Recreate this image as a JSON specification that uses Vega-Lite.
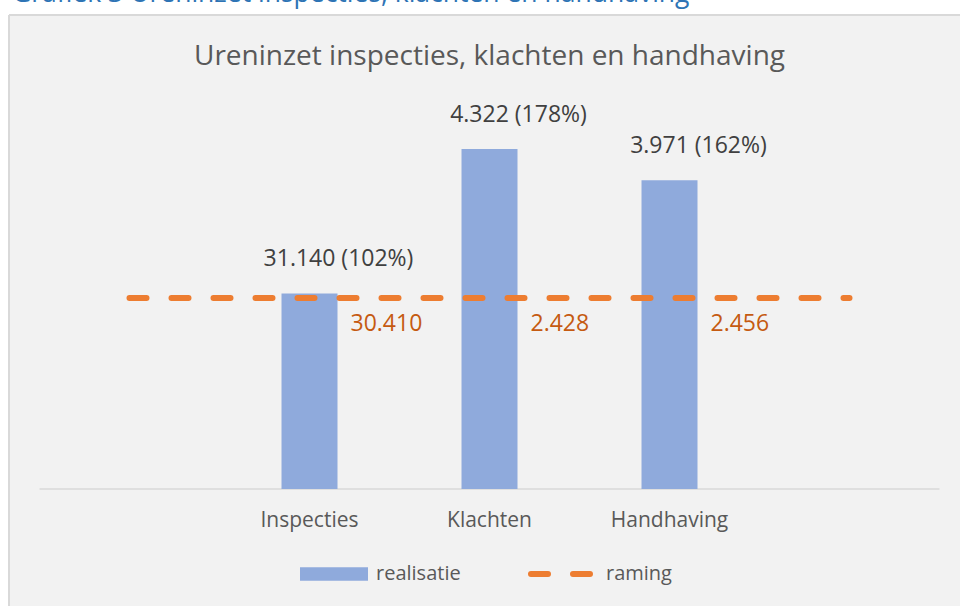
{
  "$schema": "https://vega.github.io/schema/vega-lite/v6.json",
  "width": 951,
  "height": 591,
  "autosize": {"type": "none"},
  "padding": {"left": 9, "top": 15, "right": 0, "bottom": 0},
  "background": "#FFFFFF",
  "title": {
    "text": "Grafiek 3 Ureninzet inspecties, klachten en handhaving",
    "anchor": "start",
    "frame": "group",
    "orient": "top",
    "baseline": "alphabetic",
    "offset": -13,
    "dx": 3,
    "font": "Open Sans",
    "fontSize": 26.5,
    "fontWeight": "normal",
    "color": "#2E74B5"
  },
  "config": {
    "view": {"fill": "#F2F2F2", "stroke": "#D9D9D9", "strokeWidth": 2, "strokeDash": [951, 1542, 591, 0]},
    "font": "Open Sans"
  },
  "datasets": {
    "realisatie": [
      {"categorie": "Inspecties", "realisatie_uren": 31140, "raming_uren": 30410, "ratio": 1.024, "label": "31.140 (102%)", "raming_label": "30.410"},
      {"categorie": "Klachten", "realisatie_uren": 4322, "raming_uren": 2428, "ratio": 1.78, "label": "4.322 (178%)", "raming_label": "2.428"},
      {"categorie": "Handhaving", "realisatie_uren": 3971, "raming_uren": 2456, "ratio": 1.617, "label": "3.971 (162%)", "raming_label": "2.456"}
    ],
    "raming": [
      {"categorie": "L", "ratio": 1},
      {"categorie": "Inspecties", "ratio": 1},
      {"categorie": "Klachten", "ratio": 1},
      {"categorie": "Handhaving", "ratio": 1},
      {"categorie": "R", "ratio": 1}
    ],
    "titel": [
      {"titel": "Ureninzet inspecties, klachten en handhaving"}
    ]
  },
  "layer": [
    {
      "data": {"name": "raming"},
      "transform": [{"filter": "datum.categorie == 'L'"}],
      "mark": {"type": "rule", "color": "#D9D9D9", "strokeWidth": 1.5},
      "encoding": {
        "x": {
          "field": "categorie",
          "type": "nominal",
          "bandPosition": 0,
          "scale": {
            "domain": ["L", "Inspecties", "Klachten", "Handhaving", "R"],
            "paddingInner": 0,
            "paddingOuter": 0.14167,
            "align": 0.598
          },
          "title": null,
          "axis": {
            "orient": "bottom",
            "offset": -117,
            "domain": false,
            "ticks": false,
            "grid": false,
            "labelPadding": 37.5,
            "labelBaseline": "alphabetic",
            "labelAngle": 0,
            "labelFont": "Open Sans",
            "labelFontSize": 21,
            "labelColor": "#595959",
            "labelExpr": "datum.value == 'L' || datum.value == 'R' ? '' : datum.value"
          }
        },
        "x2": {"datum": "R", "bandPosition": 1},
        "y": {
          "datum": 0,
          "type": "quantitative",
          "scale": {"domain": [-0.6126, 2.4817], "nice": false, "zero": false},
          "axis": null
        }
      }
    },
    {
      "data": {"name": "realisatie"},
      "mark": {"type": "bar", "width": 56},
      "encoding": {
        "x": {"field": "categorie", "type": "nominal"},
        "y": {"field": "ratio", "type": "quantitative"},
        "y2": {"datum": 0},
        "fill": {
          "datum": "realisatie",
          "type": "nominal",
          "scale": {"domain": ["realisatie"], "range": ["#8FAADC"]},
          "legend": {
            "title": null,
            "orient": "none",
            "legendX": 291,
            "legendY": 525,
            "padding": 0,
            "labelFont": "Open Sans",
            "labelFontSize": 20,
            "labelColor": "#595959",
            "labelOffset": 8,
            "symbolSize": 4624,
            "symbolStrokeWidth": 0,
            "encode": {
              "symbols": {
                "update": {
                  "shape": {"value": "M-1,-0.197H1V0.197H-1Z"},
                  "fill": {"value": "#8FAADC"},
                  "strokeWidth": {"value": 0},
                  "opacity": {"value": 1},
                  "size": {"value": 4624}
                }
              }
            }
          }
        }
      }
    },
    {
      "data": {"name": "raming"},
      "mark": {"type": "line", "strokeWidth": 6, "strokeDash": [17, 25], "strokeCap": "round"},
      "encoding": {
        "x": {"field": "categorie", "type": "nominal"},
        "y": {"field": "ratio", "type": "quantitative"},
        "stroke": {
          "datum": "raming",
          "type": "nominal",
          "scale": {"domain": ["raming"], "range": ["#ED7D31"]},
          "legend": {
            "title": null,
            "orient": "none",
            "legendX": 519,
            "legendY": 522,
            "padding": 0,
            "labelFont": "Open Sans",
            "labelFontSize": 20,
            "labelColor": "#595959",
            "labelOffset": 4,
            "symbolSize": 4624,
            "symbolStrokeWidth": 6,
            "encode": {
              "symbols": {
                "update": {
                  "shape": {"value": "M-1,0H1"},
                  "fill": {"value": "transparent"},
                  "stroke": {"value": "#ED7D31"},
                  "strokeWidth": {"value": 6},
                  "strokeDash": {"value": [17, 25]},
                  "strokeCap": {"value": "round"},
                  "opacity": {"value": 1},
                  "size": {"value": 4624}
                }
              }
            }
          }
        }
      }
    },
    {
      "data": {"name": "realisatie"},
      "mark": {"type": "text", "dx": 29, "dy": -27, "baseline": "alphabetic", "align": "center", "font": "Open Sans", "fontSize": 23, "color": "#404040"},
      "encoding": {
        "x": {"field": "categorie", "type": "nominal"},
        "y": {"field": "ratio", "type": "quantitative"},
        "text": {"field": "label"}
      }
    },
    {
      "data": {"name": "realisatie"},
      "mark": {"type": "text", "dx": 41, "dy": 33.5, "baseline": "alphabetic", "align": "left", "font": "Open Sans", "fontSize": 23, "color": "#C55A11"},
      "encoding": {
        "x": {"field": "categorie", "type": "nominal"},
        "y": {"datum": 1},
        "text": {"field": "raming_label"}
      }
    },
    {
      "data": {"name": "titel"},
      "mark": {"type": "text", "baseline": "alphabetic", "align": "center", "font": "Open Sans", "fontSize": 28, "color": "#595959"},
      "encoding": {
        "x": {"datum": "Klachten"},
        "y": {"datum": 2.22},
        "text": {"field": "titel"}
      }
    }
  ]
}
